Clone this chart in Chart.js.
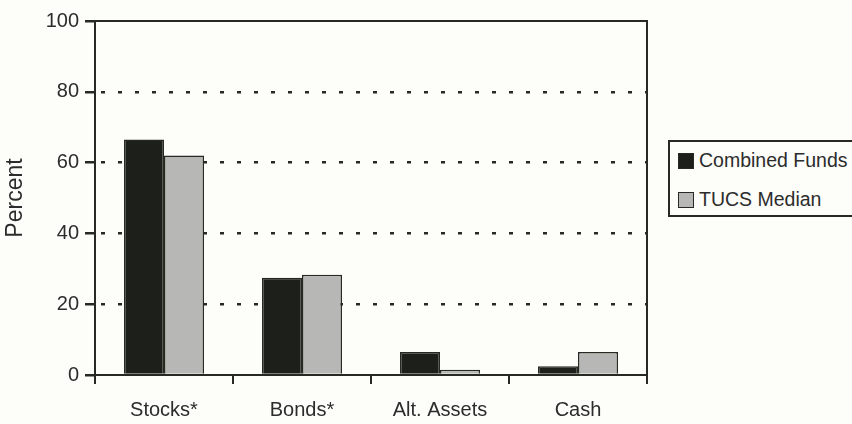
<!DOCTYPE html>
<html>
<head>
<meta charset="utf-8">
<script src="https://cdn.jsdelivr.net/npm/chart.js@4"></script>
<style>
  html, body { margin: 0; padding: 0; background: #fdfdf9; overflow: hidden; }
  #wrap { position: relative; width: 852px; height: 424px; }
  canvas { position: absolute; left: 0; top: 0; }
  #legend {
    position: absolute; left: 668px; top: 140px; width: 200px; height: 77px;
    border: 2px solid #262a22; box-sizing: border-box; background: #fdfdf9;
    font-family: "Liberation Sans", Arial, sans-serif;
    font-size: 19.5px; color: #2c2c2c;
  }
  .item { position: absolute; left: 8px; height: 24px; line-height: 24px; white-space: nowrap; }
  .sw { display: inline-block; width: 14px; height: 14px; border: 1.5px solid #262a22; vertical-align: middle; margin-right: 5px; position: relative; top: -1px; }
</style>
</head>
<body>
<div id="wrap">
  <canvas id="c" width="852" height="424"></canvas>
  <div id="legend"></div>
</div>
<script>
const categories = ["Stocks*", "Bonds*", "Alt. Assets", "Cash"];
const seriesNames = ["Combined Funds", "TUCS Median"];
const combinedFunds = [66.5, 27.5, 6.5, 2.5];
const tucsMedian = [62, 28.3, 1.5, 6.5];
const yTicks = [0, 20, 40, 60, 80, 100];
const seriesColors = ["#1d1f1a", "#b7b7b5"];

const FONT = '"Liberation Sans", Arial, sans-serif';
const INK = "#262a22";

const boxPlugin = {
  id: "box",
  afterDatasetsDraw(chart) {
    const a = chart.chartArea, ctx = chart.ctx;
    ctx.save();
    ctx.strokeStyle = INK;
    ctx.lineWidth = 2;
    ctx.beginPath();
    ctx.moveTo(a.left, a.top);
    ctx.lineTo(a.right, a.top);
    ctx.lineTo(a.right, a.bottom + 4);
    ctx.stroke();
    ctx.restore();
  }
};

new Chart(document.getElementById("c"), {
  type: "bar",
  data: {
    labels: categories,
    datasets: [
      { label: seriesNames[0], data: combinedFunds, backgroundColor: seriesColors[0], borderColor: INK, borderWidth: 1.5, borderSkipped: "bottom" },
      { label: seriesNames[1], data: tucsMedian, backgroundColor: seriesColors[1], borderColor: INK, borderWidth: 1.5, borderSkipped: "bottom" }
    ]
  },
  options: {
    responsive: false,
    animation: false,
    events: [],
    layout: { padding: { left: 0, right: 205, top: 21, bottom: 0 } },
    datasets: { bar: { categoryPercentage: 0.58, barPercentage: 1.0 } },
    plugins: { legend: { display: false }, tooltip: { enabled: false } },
    scales: {
      x: {
        offset: true,
        grid: { offset: true, drawOnChartArea: false, color: INK, lineWidth: 2, tickLength: 9 },
        border: { display: true, color: INK, width: 2 },
        ticks: { color: "#2c2c2c", font: { family: FONT, size: 20 }, padding: 14, maxRotation: 0 },
        afterFit(s) { s.height = 49; }
      },
      y: {
        min: 0, max: 100,
        afterBuildTicks(s) { s.ticks = yTicks.map(v => ({ value: v })); },
        grid: {
          color: ctx => (ctx.tick && (ctx.tick.value === 0 || ctx.tick.value === 100)) ? "rgba(0,0,0,0)" : INK,
          tickColor: INK,
          lineWidth: 2.5,
          tickLength: 10,
          drawTicks: true
        },
        border: { display: true, color: INK, width: 2, dash: [4, 13], dashOffset: -5 },
        ticks: { color: "#2c2c2c", font: { family: FONT, size: 20 }, padding: 6 },
        title: { display: true, text: "Percent", color: "#2c2c2c", font: { family: FONT, size: 23 }, padding: { top: 2, bottom: 0 } },
        afterFit(s) { s.width = 95; }
      }
    }
  },
  plugins: [boxPlugin]
});

const lg = document.getElementById("legend");
seriesNames.forEach((n, i) => {
  const d = document.createElement("div");
  d.className = "item";
  d.style.top = (i === 0 ? 6 : 45) + "px";
  const sw = document.createElement("span");
  sw.className = "sw";
  sw.style.background = seriesColors[i];
  d.appendChild(sw);
  d.appendChild(document.createTextNode(n));
  lg.appendChild(d);
});
</script>
</body>
</html>
